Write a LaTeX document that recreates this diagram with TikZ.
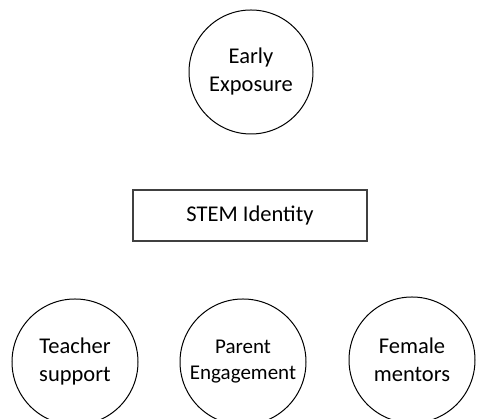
\documentclass[tikz,border=0pt]{standalone}
\usepackage{fontspec}
\setmainfont{Carlito}
\begin{document}
\begin{tikzpicture}[x=1pt,y=1pt,
  factor/.style={draw=black, line width=1pt, circle, inner sep=0pt,
    minimum size=126pt, align=center, font=\fontsize{22.5}{28}\selectfont},
  core/.style={draw=black!75, line width=1.5pt, rectangle, inner sep=0pt,
    minimum width=234pt, minimum height=51pt, font=\fontsize{22.5}{28}\selectfont}]
  \useasboundingbox (0,0) rectangle (477,419);
  \clip (0,0) rectangle (477,419);
  \node[factor, minimum size=124pt] (early) at (251,347) {Early\\Exposure};
  \node[core] (stem) at (250,203.5) {STEM Identity};
  \node[factor] (teacher) at (75,57) {Teacher\\support};
  \node[factor, font=\fontsize{21}{26}\selectfont] (parent) at (243,57) {Parent\\Engagement};
  \node[factor] (female) at (412,59) {Female\\mentors};
\end{tikzpicture}
\end{document}
